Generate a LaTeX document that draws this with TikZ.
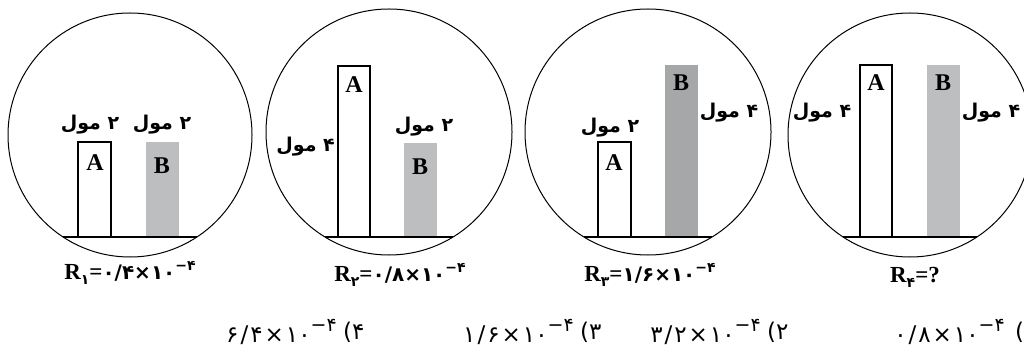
\documentclass[tikz,border=0pt]{standalone}
\usepackage{fontspec}
\setmainfont{Liberation Serif}
\newfontfamily\fa[Script=Arabic]{DejaVu Sans}
\newfontfamily\fanum{DejaVu Sans}
\TeXXeTstate=1
\definecolor{lgray}{RGB}{189,190,192}
\definecolor{dgray}{RGB}{166,167,169}
\tikzset{
  ring/.style={draw, line width=1pt},
  floorline/.style={line width=1.1pt},
  abar/.style={draw, line width=1.1pt, fill=white},
  bbar/.style={fill=lgray},
  letter/.style={font=\fontsize{24}{24}\selectfont\bfseries, inner sep=0pt},
  mol/.style={font=\fa\fontsize{19}{19}\selectfont\bfseries, inner sep=0pt},
  rlab/.style={inner sep=0pt, font=\fontsize{23}{23}\selectfont\bfseries},
  opt/.style={inner sep=0pt, font=\fanum\fontsize{23}{23}\selectfont},
}
\newcommand{\rsub}[1]{\raisebox{-5pt}{\fanum\bfseries\fontsize{14}{14}\selectfont #1}}
\newcommand{\rnum}[1]{{\fanum\fontsize{20}{20}\selectfont #1}}
\newcommand{\rsup}{\raisebox{9pt}{\fanum\fontsize{14}{14}\selectfont −۴}}
\newcommand{\osup}{\raisebox{11pt}{\fanum\fontsize{19}{19}\selectfont −۴}}
\newcommand{\gp}{\hspace{2pt}}
\begin{document}
\begin{tikzpicture}[x=1pt,y=-1pt]
\useasboundingbox (0,0) rectangle (1024,347);
% circles
\draw[ring] (130,135) circle (122);
\draw[ring] (389,132) circle (123);
\draw[ring] (648,132) circle (123);
\draw[ring] (910,135) circle (122);
% bars circle 1
\draw[abar] (78,237) rectangle (111,142);
\fill[bbar] (146,237) rectangle (179,142);
% circle 2
\draw[abar] (338,237) rectangle (370,66);
\fill[bbar] (404,237) rectangle (437,143);
% circle 3
\draw[abar] (598,237) rectangle (631,142);
\fill[fill=dgray] (665,237) rectangle (698,65);
% circle 4
\draw[abar] (860,237) rectangle (892,65);
\fill[bbar] (927,237) rectangle (960,65);
% floors
\draw[floorline] (63,237) -- (197,237);
\draw[floorline] (325,237) -- (453,237);
\draw[floorline] (584,237) -- (712,237);
\draw[floorline] (843,237) -- (977,237);
% letters
\node[letter] (a1) at (95,163) {A};
\node[letter] (b1) at (162,166) {B};
\node[letter] (a2) at (354,85) {A};
\node[letter] (b2) at (420,167) {B};
\node[letter] (a3) at (614,163) {A};
\node[letter] (b3) at (681,83) {B};
\node[letter] (a4) at (876,83) {A};
\node[letter] (b4) at (943,83) {B};
% mole labels
\node[mol] (m1a) at (90,125) {\beginR ۲ مول\endR};
\node[mol] (m1b) at (162,125) {\beginR ۲ مول\endR};
\node[mol, anchor=east] (m2a) at (335,147) {\beginR ۴ مول\endR};
\node[mol] (m2b) at (424,127) {\beginR ۲ مول\endR};
\node[mol] (m3a) at (610,128) {\beginR ۲ مول\endR};
\node[mol] (m3b) at (729,113) {\beginR ۴ مول\endR};
\node[mol] (m4a) at (822,113) {\beginR ۴ مول\endR};
\node[mol] (m4b) at (991,113) {\beginR ۴ مول\endR};
% R labels
\node[rlab] (r1) at (130,273) {R\rsub{۱}=\rnum{۰/۴×۱۰}\rsup};
\node[rlab] (r2) at (400,275) {R\rsub{۲}=\rnum{۰/۸×۱۰}\rsup};
\node[rlab] (r3) at (650,275) {R\rsub{۳}=\rnum{۱/۶×۱۰}\rsup};
\node[rlab] (r4) at (915,277) {R\rsub{۴}=?};
% options
\node[opt, anchor=west] (p4) at (343,332) {(۴};
\node[opt, anchor=east] (o4) at ([xshift=-6pt]p4.west) {۶\gp/\gp۴\gp×\gp۱۰\osup};
\node[opt, anchor=west] (p3) at (580,332) {(۳};
\node[opt, anchor=east] (o3) at ([xshift=-6pt]p3.west) {۱\gp/\gp۶\gp×\gp۱۰\osup};
\node[opt, anchor=west] (p2) at (767,332) {(۲};
\node[opt, anchor=east] (o2) at ([xshift=-6pt]p2.west) {۳\gp/\gp۲\gp×\gp۱۰\osup};
\node[opt, anchor=west] (p1) at (1015,332) {(};
\node[opt, anchor=east] (o1) at ([xshift=-10pt]p1.west) {۰\gp/\gp۸\gp×\gp۱۰\osup};
\end{tikzpicture}
\end{document}
